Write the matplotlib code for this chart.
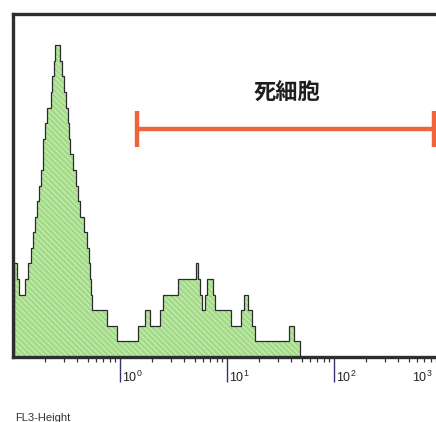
import numpy as np
import matplotlib
matplotlib.use("Agg")
import matplotlib.pyplot as plt
import matplotlib.transforms as mtransforms

plt.rcParams["font.family"] = ["Liberation Sans", "DejaVu Sans"]
plt.rcParams["mathtext.fontset"] = "custom"
plt.rcParams["mathtext.rm"] = "Liberation Sans"
plt.rcParams["mathtext.it"] = "Liberation Sans"
plt.rcParams["hatch.linewidth"] = 0.9

# FL3 histogram: step edges as log10(FL3-Height) and event counts per step
edges_log = [
    -0.990, -0.963, -0.944, -0.888, -0.860, -0.832, -0.813, -0.794, -0.776,
    -0.757, -0.738, -0.724, -0.715, -0.701, -0.682, -0.645, -0.636, -0.621,
    -0.607, -0.561, -0.542, -0.523, -0.505, -0.486, -0.477, -0.467, -0.439,
    -0.411, -0.393, -0.374, -0.336, -0.308, -0.290, -0.280, -0.271, -0.262,
    -0.121, -0.028, 0.168, 0.234, 0.280, 0.374, 0.402, 0.542, 0.710, 0.729,
    0.748, 0.766, 0.794, 0.813, 0.869, 0.888, 1.037, 1.131, 1.159, 1.196,
    1.234, 1.262, 1.579, 1.626, 1.682,
]
counts = [
    6, 5, 4, 5, 6, 7, 8, 9, 10, 11, 12, 13, 14, 15, 16, 17, 18, 19, 20,
    19, 18, 17, 16, 15, 14, 13, 12, 11, 10, 9, 8, 7, 6, 5, 4, 3,
    2, 1, 2, 3, 2, 3, 4, 5, 6, 5, 4, 3, 4, 5, 4, 3, 2, 3, 4, 3, 2, 1, 2, 1,
]

# dead-cell gate (FL3-Height range) and its label
gate_lo, gate_hi = 1.44, 860.0
gate_label = "死細胞"

x_decades = [-1, 0, 1, 2, 3]
x_label = "FL3-Height"
y_max = 22

W, H = 436, 422
fig = plt.figure(figsize=(W / 100, H / 100), dpi=100)
# the right end of the axis (10^3) runs just past the figure edge
ax = fig.add_axes([13 / W, 1 - 357 / H, (441 - 13) / W, (357 - 14) / H])

edges = 10 ** np.array(edges_log)
ax.stairs(counts, edges, fill=True, facecolor="#a2da88", edgecolor="#c8ecb2",
          hatch="\\\\\\\\\\\\", linewidth=0, zorder=2)
ax.stairs(counts, edges, fill=False, color="#2a2a30", linewidth=0.9, zorder=3)

ax.set_xscale("log")
ax.set_xlim(10.0 ** x_decades[0], 10.0 ** x_decades[-1])
ax.set_ylim(0, y_max)
ax.set_yticks([])

# gate bar with end caps
bar_y = 14.6
cap_h = 1.15
gate_col = "#f0643c"
ax.hlines(bar_y, gate_lo, gate_hi, color=gate_col, linewidth=3.2, zorder=4)
ax.vlines([gate_lo, gate_hi], bar_y - cap_h, bar_y + cap_h, color=gate_col,
          linewidth=3.2, zorder=4)
ax.text(36, 16.9, gate_label,
        family=["Noto Sans CJK JP", "DejaVu Sans"], fontweight="bold",
        fontsize=16, color="#1e1e1e", ha="center", va="center")

spine_col = "#2e2e2a"
for side in ("left", "top", "bottom"):
    ax.spines[side].set_linewidth(2.4)
    ax.spines[side].set_color(spine_col)
ax.spines["right"].set_visible(False)

# long ticks only at the inner decades; the outer ones sit on/behind the frame
inner = x_decades[1:-1]
ax.set_xticks([10.0 ** d for d in inner])
ax.set_xticklabels([])
ax.tick_params(axis="x", which="major", direction="out", length=18, width=1.0,
               color="#3c2f6a")
ax.tick_params(axis="x", which="minor", direction="out", length=3.5, width=0.9,
               color="#333333")
ax.xaxis.set_minor_locator(matplotlib.ticker.LogLocator(base=10, subs=np.arange(2, 10)))

# decade labels sit right of their tick, near the tick's lower end
trans = mtransforms.blended_transform_factory(ax.transData, ax.transAxes)
for d in x_decades[1:]:
    xpix = ax.transData.transform((10.0 ** d, 1))[0]
    dx = 2 if xpix + 24 < W else W - 24 - xpix
    ax.annotate(f"$10^{{{d}}}$", xy=(10.0 ** d, 0), xycoords=trans,
                xytext=(dx, -25), textcoords="offset pixels",
                ha="left", va="baseline", fontsize=9, color="#222222",
                annotation_clip=False)

fig.text(15 / W, 1 - 421 / H, x_label, fontsize=8, color="#333333",
         ha="left", va="baseline")

fig.savefig("out.png", dpi=100)
